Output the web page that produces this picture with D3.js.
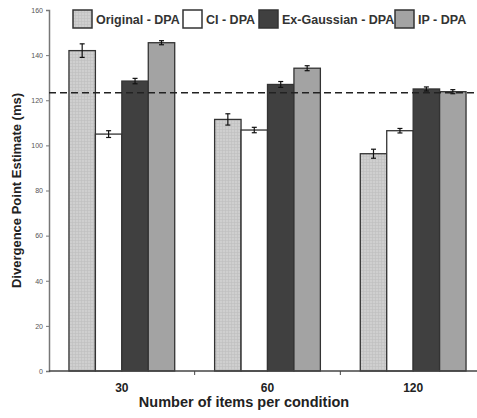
<!DOCTYPE html>
<html><head><meta charset="utf-8">
<script src="https://cdn.jsdelivr.net/npm/d3@7"></script>
<style>body{margin:0;background:#fff}svg{display:block}</style>
</head><body>
<script>
const categories = ["30", "60", "120"];
const series = ["Original - DPA", "CI - DPA", "Ex-Gaussian - DPA", "IP - DPA"];
const values = [
  [142, 105, 128.5, 145.5],
  [111.5, 106.8, 127, 134.2],
  [96.3, 106.5, 125, 123.8]
];
const errors = [
  [3, 1.5, 1.2, 0.9],
  [2.5, 1.2, 1.3, 1.1],
  [2, 1, 0.9, 0.9]
];
const refLine = 123.3;
const yTicks = [0, 20, 40, 60, 80, 100, 120, 140, 160];

const W = 477, H = 418;
const svg = d3.select("body").append("svg").attr("width", W).attr("height", H);
const defs = svg.append("defs");
const pat = defs.append("pattern").attr("id", "grid").attr("patternUnits", "userSpaceOnUse").attr("width", 3).attr("height", 3);
pat.append("rect").attr("width", 3).attr("height", 3).attr("fill", "#cfcfcf");
pat.append("path").attr("d", "M0,0.5H3M0.5,0V3").attr("stroke", "#bdbdbd").attr("stroke-width", 0.6);

const fills = ["url(#grid)", "#ffffff", "#404040", "#a3a3a3"];

const x0 = 49, x1 = 486, yTop = 10, yBot = 371;
const x = d3.scaleBand().domain(categories).range([x0, x1]).padding(0);
const bw = x.bandwidth();
const xi = d3.scaleBand().domain(series).range([bw * 0.137, bw * 0.863]).padding(0);
const y = d3.scaleLinear().domain([0, 160]).range([yBot, yTop]);

// y axis
const ya = svg.append("g").attr("transform", `translate(${x0},0)`)
  .call(d3.axisLeft(y).tickValues(yTicks).tickSize(3).tickPadding(3));
ya.select(".domain").attr("stroke", "#777").attr("stroke-width", 1.5);
ya.selectAll(".tick line").attr("stroke", "#777");
ya.selectAll("text").attr("font-family", "Arial, Liberation Sans, sans-serif").attr("font-size", 7).attr("fill", "#555");

// bars
const g = svg.append("g");
categories.forEach((c, i) => {
  series.forEach((s, j) => {
    const bx = x(c) + xi(s);
    g.append("rect").attr("x", bx).attr("y", y(values[i][j]))
      .attr("width", xi.bandwidth()).attr("height", y(0) - y(values[i][j]))
      .attr("fill", fills[j]).attr("stroke", "#333").attr("stroke-width", 1.3);
  });
});

// x axis
const xa = svg.append("g").attr("transform", `translate(0,${yBot})`);
xa.append("line").attr("x1", x0).attr("x2", x1).attr("stroke", "#444").attr("stroke-width", 1.5);
categories.slice(1).forEach(c => {
  xa.append("line").attr("x1", x(c)).attr("x2", x(c)).attr("y1", 0).attr("y2", 4).attr("stroke", "#444");
});
categories.forEach(c => {
  xa.append("text").attr("x", x(c) + bw / 2).attr("y", 21).attr("text-anchor", "middle")
    .attr("font-family", "Arial, Liberation Sans, sans-serif").attr("font-weight", "bold").attr("font-size", 12).attr("fill", "#222").text(c);
});

// error bars
categories.forEach((c, i) => {
  series.forEach((s, j) => {
    const cx = x(c) + xi(s) + xi.bandwidth() / 2;
    const hi = y(values[i][j] + errors[i][j]), lo = y(values[i][j] - errors[i][j]);
    g.append("line").attr("x1", cx).attr("x2", cx).attr("y1", hi).attr("y2", lo).attr("stroke", "#111").attr("stroke-width", 1.2);
    [hi, lo].forEach(yy => g.append("line").attr("x1", cx - 2.5).attr("x2", cx + 2.5).attr("y1", yy).attr("y2", yy).attr("stroke", "#111").attr("stroke-width", 1.2));
  });
});

// reference dashed line
svg.append("line").attr("x1", x0).attr("x2", W).attr("y1", y(refLine)).attr("y2", y(refLine))
  .attr("stroke", "#222").attr("stroke-width", 1.6).attr("stroke-dasharray", "7,4");

// axis labels
svg.append("text").attr("transform", `translate(21,${(yTop + yBot) / 2}) rotate(-90)`).attr("text-anchor", "middle")
  .attr("font-family", "Arial, Liberation Sans, sans-serif").attr("font-weight", "bold").attr("font-size", 13).attr("fill", "#222")
  .text("Divergence Point Estimate (ms)");
svg.append("text").attr("x", 244).attr("y", 407).attr("text-anchor", "middle")
  .attr("font-family", "Arial, Liberation Sans, sans-serif").attr("font-weight", "bold").attr("font-size", 14.5).attr("fill", "#222")
  .text("Number of items per condition");

// legend
const legX = [73, 183, 259, 395];
series.forEach((s, j) => {
  svg.append("rect").attr("x", legX[j]).attr("y", 10).attr("width", 19).attr("height", 18)
    .attr("fill", fills[j]).attr("stroke", "#333").attr("stroke-width", 1.5);
  svg.append("text").attr("x", legX[j] + 23).attr("y", 24)
    .attr("font-family", "Arial, Liberation Sans, sans-serif").attr("font-weight", "bold").attr("font-size", 12.5).attr("fill", "#333").text(s);
});
</script>
</body></html>
